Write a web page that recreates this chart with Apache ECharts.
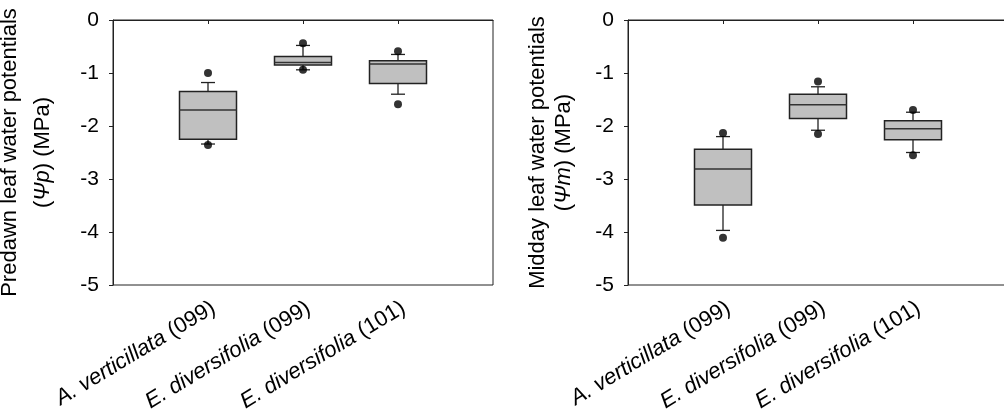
<!DOCTYPE html>
<html>
<head>
<meta charset="utf-8">
<script src="https://cdn.jsdelivr.net/npm/echarts@6/dist/echarts.min.js"></script>
<style>
html,body{margin:0;padding:0;background:#fff;}
#chart{width:1004px;height:416px;}
</style>
</head>
<body>
<div id="chart"></div>
<script>
// ---- data ----
const speciesNames = ['A. verticillata', 'E. diversifolia', 'E. diversifolia'];
const siteCodes = ['(099)', '(099)', '(101)'];
const yTicks = [0, -1, -2, -3, -4, -5];

// Predawn (MPa)
const predawnMin = [-2.34, -0.94, -1.40];
const predawnQ1 = [-2.25, -0.85, -1.20];
const predawnMedian = [-1.70, -0.80, -0.83];
const predawnQ3 = [-1.35, -0.69, -0.77];
const predawnMax = [-1.18, -0.48, -0.65];
const predawnOutlierGroup = [0, 0, 1, 1, 2, 2];
const predawnOutlierValue = [-1.00, -2.36, -0.44, -0.94, -0.59, -1.59];

// Midday (MPa)
const middayMin = [-3.97, -2.08, -2.50];
const middayQ1 = [-3.49, -1.86, -2.26];
const middayMedian = [-2.81, -1.60, -2.05];
const middayQ3 = [-2.44, -1.40, -1.90];
const middayMax = [-2.20, -1.26, -1.74];
const middayOutlierGroup = [0, 0, 1, 1, 2, 2];
const middayOutlierValue = [-2.13, -4.11, -1.16, -2.15, -1.70, -2.55];

// ---- build ----
const FONT = 'Liberation Sans, Arial, sans-serif';
const axisCats = [''].concat(speciesNames.map((s, i) => s + '|' + siteCodes[i])).concat(['']);
const showMid = (i) => i > 0 && i < axisCats.length - 1;

function boxData(mn, q1, md, q3, mx) {
  return mn.map((v, i) => [i + 1, mn[i], q1[i], md[i], q3[i], mx[i]]);
}
function outlierData(g, v) {
  return g.map((gi, i) => [gi + 1, v[i]]);
}

function renderBox(params, api) {
  const x = api.value(0);
  const pMin = api.coord([x, api.value(1)]);
  const pQ1 = api.coord([x, api.value(2)]);
  const pMed = api.coord([x, api.value(3)]);
  const pQ3 = api.coord([x, api.value(4)]);
  const pMax = api.coord([x, api.value(5)]);
  const cx = pMed[0];
  const half = 28.5;
  const cap = 7;
  const stroke = {stroke: '#222', lineWidth: 1.3};
  return {
    type: 'group',
    children: [
      {type: 'line', shape: {x1: cx, y1: pQ3[1], x2: cx, y2: pMax[1]}, style: stroke},
      {type: 'line', shape: {x1: cx, y1: pQ1[1], x2: cx, y2: pMin[1]}, style: stroke},
      {type: 'line', shape: {x1: cx - cap, y1: pMax[1], x2: cx + cap, y2: pMax[1]}, style: stroke},
      {type: 'line', shape: {x1: cx - cap, y1: pMin[1], x2: cx + cap, y2: pMin[1]}, style: stroke},
      {type: 'rect', shape: {x: cx - half, y: pQ3[1], width: half * 2, height: pQ1[1] - pQ3[1]},
        style: {fill: '#c0c0c0', stroke: '#222', lineWidth: 1.5}},
      {type: 'line', shape: {x1: cx - half, y1: pMed[1], x2: cx + half, y2: pMed[1]},
        style: {stroke: '#333', lineWidth: 1.5}}
    ]
  };
}

function xAxisFor(gi) {
  return {
    gridIndex: gi, type: 'category', data: axisCats, boundaryGap: false,
    axisLine: {lineStyle: {color: '#222', width: 1}},
    axisTick: {show: true, length: 4, interval: (i) => showMid(i), lineStyle: {color: '#222'}},
    splitLine: {show: false},
    axisLabel: {
      interval: (i) => showMid(i), rotate: 31, margin: 12, verticalAlign: 'top',
      formatter: (v) => {
        if (!v) return '';
        const parts = v.split('|');
        return '{i|' + parts[0] + '}{n| ' + parts[1] + '}';
      },
      rich: {
        i: {fontStyle: 'italic', fontSize: 22, fontFamily: FONT, color: '#000'},
        n: {fontSize: 22, fontFamily: FONT, color: '#000'}
      }
    }
  };
}

function yAxisFor(gi, line1, sub, gap, lh) {
  const st = (extra) => Object.assign({fontSize: 22, fontFamily: FONT, color: '#000', lineHeight: lh}, extra || {});
  return {
    gridIndex: gi, type: 'value', min: -5, max: 0, interval: 1,
    axisLine: {show: true, lineStyle: {color: '#222', width: 1}},
    axisTick: {show: true, length: 4, lineStyle: {color: '#222'}},
    splitLine: {show: false},
    axisLabel: {fontSize: 21, fontFamily: FONT, color: '#000', margin: 14,
      formatter: (v) => (yTicks.indexOf(v) >= 0 ? String(v) : '')},
    name: '{t|' + line1 + '}\n{t|(}{i|Ψ}{s|' + sub + '}{t|) (MPa)}',
    nameLocation: 'middle', nameRotate: 90, nameGap: gap,
    nameTextStyle: {
      rich: {
        t: st(),
        i: st({fontStyle: 'italic'}),
        s: st({fontStyle: 'italic'})
      }
    }
  };
}

const gridBase = {top: 20, width: 380, height: 265, show: true, borderColor: '#222', borderWidth: 1,
  backgroundColor: 'transparent', containLabel: false, outerBoundsMode: 'none'};

const chart = echarts.init(document.getElementById('chart'), null, {renderer: 'canvas'});
chart.setOption({
  animation: false,
  backgroundColor: '#fff',
  grid: [
    Object.assign({left: 113}, gridBase),
    Object.assign({left: 628}, gridBase)
  ],
  xAxis: [xAxisFor(0), xAxisFor(1)],
  yAxis: [
    yAxisFor(0, 'Predawn leaf water potentials', 'p', 54, 33),
    yAxisFor(1, 'Midday leaf water potentials', 'm', 51, 26)
  ],
  series: [
    {type: 'custom', xAxisIndex: 0, yAxisIndex: 0, renderItem: renderBox,
      data: boxData(predawnMin, predawnQ1, predawnMedian, predawnQ3, predawnMax)},
    {type: 'scatter', xAxisIndex: 0, yAxisIndex: 0, symbolSize: 8, itemStyle: {color: '#000'},
      data: outlierData(predawnOutlierGroup, predawnOutlierValue), z: 5},
    {type: 'custom', xAxisIndex: 1, yAxisIndex: 1, renderItem: renderBox,
      data: boxData(middayMin, middayQ1, middayMedian, middayQ3, middayMax)},
    {type: 'scatter', xAxisIndex: 1, yAxisIndex: 1, symbolSize: 8, itemStyle: {color: '#000'},
      data: outlierData(middayOutlierGroup, middayOutlierValue), z: 5}
  ]
});
</script>
</body>
</html>
